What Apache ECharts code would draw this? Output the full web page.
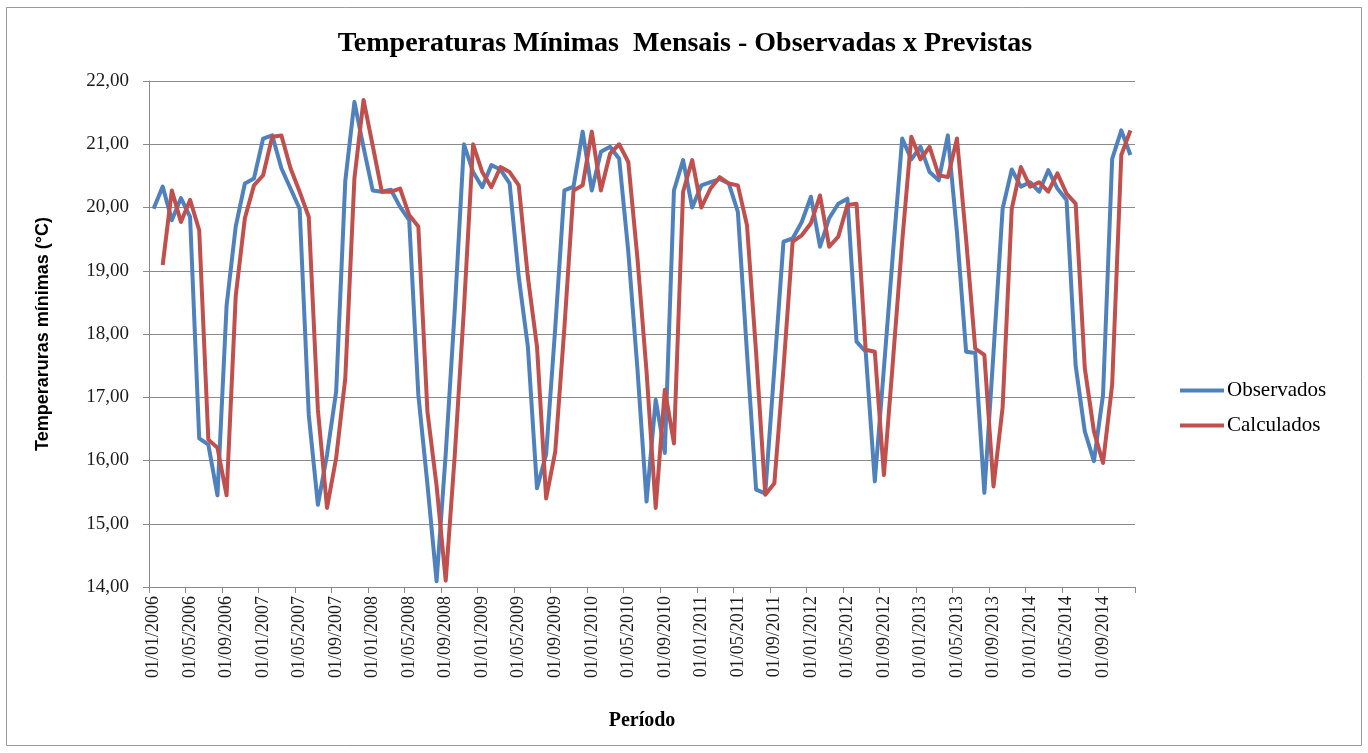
<!DOCTYPE html>
<html>
<head>
<meta charset="utf-8">
<title>Temperaturas Mínimas Mensais</title>
<script src="https://cdn.jsdelivr.net/npm/echarts@6/dist/echarts.min.js"></script>
<style>
  html, body { margin: 0; padding: 0; background: #fff; }
  #chart { width: 1368px; height: 753px; }
</style>
</head>
<body>
<div id="chart"></div>
<script>
// Monthly periods, Jan 2006 – Dec 2014
const years = [2006, 2007, 2008, 2009, 2010, 2011, 2012, 2013, 2014];
const months = ['01', '02', '03', '04', '05', '06', '07', '08', '09', '10', '11', '12'];

// Observed monthly minimum temperatures (°C), one row per year
const observados = [
  19.98, 20.33, 19.80, 20.15, 19.85, 16.35, 16.25, 15.45, 18.45, 19.70, 20.38, 20.46,
  21.09, 21.14, 20.62, 20.30, 19.98, 16.72, 15.30, 16.09, 17.09, 20.42, 21.67, 20.95,
  20.27, 20.25, 20.28, 20.01, 19.80, 17.04, 15.62, 14.09, 16.10, 18.40, 21.00, 20.56,
  20.32, 20.67, 20.60, 20.38, 18.90, 17.80, 15.56, 16.10, 18.10, 20.27, 20.33, 21.20,
  20.27, 20.88, 20.96, 20.77, 19.30, 17.45, 15.35, 16.96, 16.12, 20.27, 20.75, 20.00,
  20.35, 20.40, 20.45, 20.38, 19.93, 17.70, 15.54, 15.48, 17.46, 19.46, 19.51, 19.77,
  20.17, 19.38, 19.83, 20.06, 20.14, 17.88, 17.72, 15.67, 17.46, 19.30, 21.09, 20.76,
  20.96, 20.56, 20.43, 21.14, 19.60, 17.72, 17.70, 15.49, 17.70, 19.98, 20.60, 20.33,
  20.40, 20.25, 20.59, 20.30, 20.12, 17.50, 16.46, 15.99, 17.04, 20.77, 21.22, 20.83
];

// Calculated (forecast) monthly minimum temperatures (°C); no value for the first month
const calculados = [
  null,  19.09, 20.27, 19.77, 20.12, 19.64, 16.33, 16.20, 15.45, 18.60, 19.83, 20.35,
  20.51, 21.12, 21.14, 20.62, 20.25, 19.85, 16.80, 15.25, 16.04, 17.30, 20.46, 21.70,
  20.98, 20.25, 20.25, 20.30, 19.88, 19.70, 16.77, 15.60, 14.10, 16.10, 18.40, 21.00,
  20.56, 20.32, 20.64, 20.56, 20.35, 18.90, 17.80, 15.40, 16.14, 18.10, 20.27, 20.35,
  21.20, 20.27, 20.85, 21.00, 20.72, 19.20, 17.40, 15.25, 17.12, 16.27, 20.25, 20.75,
  20.00, 20.30, 20.48, 20.38, 20.35, 19.72, 17.70, 15.46, 15.64, 17.46, 19.46, 19.56,
  19.75, 20.19, 19.38, 19.54, 20.04, 20.06, 17.75, 17.72, 15.77, 17.60, 19.46, 21.12,
  20.76, 20.96, 20.51, 20.48, 21.09, 19.50, 17.77, 17.67, 15.59, 16.84, 19.98, 20.64,
  20.33, 20.40, 20.25, 20.54, 20.22, 20.06, 17.46, 16.46, 15.96, 17.20, 20.83, 21.22
];

// Y axis range and step
const yMin = 14, yMax = 22, yStep = 1;

const periodos = [];
years.forEach(y => months.forEach(m => periodos.push('01/' + m + '/' + y)));

const serif = '"Liberation Serif", "Times New Roman", serif';
const gridColor = '#8a8a8a';

const chart = echarts.init(document.getElementById('chart'), null, { renderer: 'canvas' });

chart.setOption({
  animation: false,
  backgroundColor: '#ffffff',
  graphic: [{
    type: 'rect',
    shape: { x: 6.5, y: 7.5, width: 1355, height: 738 },
    style: { fill: 'none', stroke: '#9a9a9a', lineWidth: 1 },
    silent: true,
    z: -1
  }],
  title: {
    text: 'Temperaturas Mínimas  Mensais - Observadas x Previstas',
    left: 680,
    top: 25,
    textAlign: 'center',
    textStyle: { fontFamily: serif, fontWeight: 'bold', fontSize: 28, color: '#000' }
  },
  legend: {
    orient: 'vertical',
    left: 1175,
    top: 375,
    itemWidth: 44,
    itemHeight: 4,
    itemGap: 14,
    icon: 'rect',
    textStyle: { fontFamily: serif, fontSize: 21, color: '#000', padding: [0, 0, 0, -2] },
    data: ['Observados', 'Calculados']
  },
  grid: { left: 149, right: 233, top: 81, bottom: 166, containLabel: false },
  xAxis: {
    type: 'category',
    data: periodos,
    boundaryGap: true,
    name: 'Período',
    nameLocation: 'middle',
    nameGap: 124,
    nameTextStyle: { fontFamily: serif, fontWeight: 'bold', fontSize: 20, color: '#000' },
    axisLine: { show: true, lineStyle: { color: gridColor, width: 1 } },
    axisTick: { show: true, interval: 3, length: 6, lineStyle: { color: gridColor } },
    axisLabel: {
      interval: 3,
      rotate: 90,
      margin: 9,
      fontFamily: serif,
      fontSize: 18,
      color: '#1a1a1a'
    },
    splitLine: { show: false }
  },
  yAxis: {
    type: 'value',
    min: yMin,
    max: yMax,
    interval: yStep,
    name: 'Temperaruras mínimas (°C)',
    nameLocation: 'middle',
    nameGap: 97,
    nameRotate: 90,
    nameTextStyle: { fontFamily: '"Liberation Sans", Arial, sans-serif', fontWeight: 'bold', fontSize: 18, color: '#000' },
    axisLine: { show: true, lineStyle: { color: gridColor, width: 1 } },
    axisTick: { show: true, length: 6, lineStyle: { color: gridColor } },
    axisLabel: {
      margin: 20,
      fontFamily: serif,
      fontSize: 19,
      color: '#1a1a1a',
      formatter: v => v.toFixed(2).replace('.', ',')
    },
    splitLine: { show: true, lineStyle: { color: gridColor, width: 1 } }
  },
  series: [
    {
      name: 'Observados',
      type: 'line',
      data: observados,
      symbol: 'none',
      smooth: false,
      lineStyle: { color: '#4f81bd', width: 4, join: 'round' },
      itemStyle: { color: '#4f81bd' }
    },
    {
      name: 'Calculados',
      type: 'line',
      data: calculados,
      symbol: 'none',
      smooth: false,
      connectNulls: false,
      lineStyle: { color: '#c0504d', width: 4, join: 'round' },
      itemStyle: { color: '#c0504d' }
    }
  ]
});
</script>
</body>
</html>
